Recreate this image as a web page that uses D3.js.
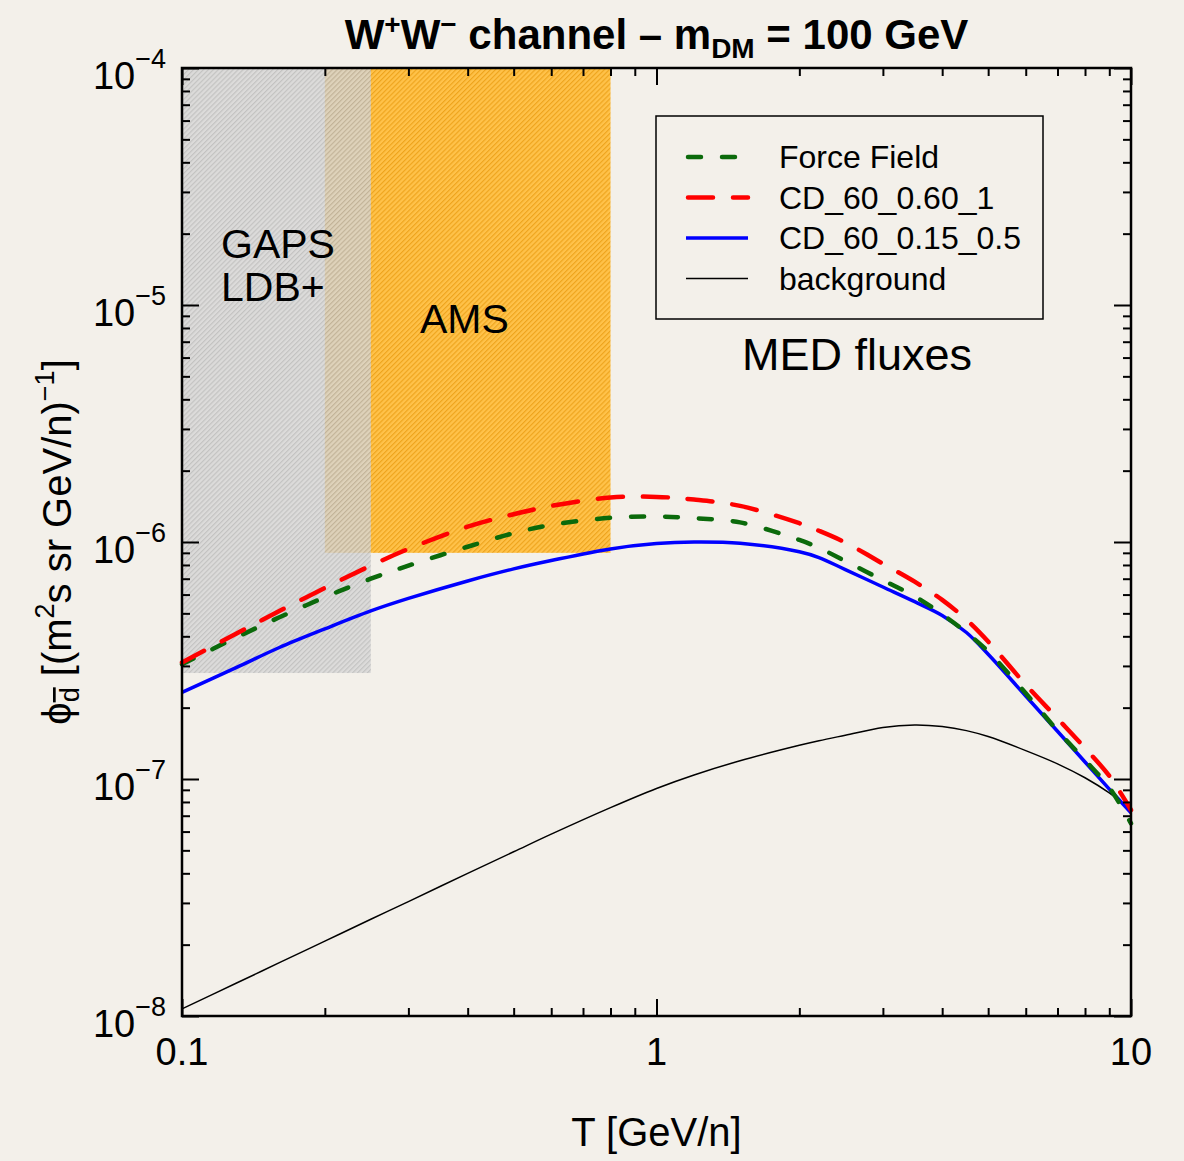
<!DOCTYPE html>
<html>
<head>
<meta charset="utf-8">
<script src="https://cdn.jsdelivr.net/npm/d3@7"></script>
<style>
  body { margin: 0; background: #f3f0ea; }
  svg { display: block; font-family: "Liberation Sans", Arial, Helvetica, sans-serif; }
</style>
</head>
<body>
<div id="chart"></div>
<script>
// kinetic energy per nucleon, GeV/n
const energy = [0.1, 0.13, 0.16, 0.2, 0.25, 0.3, 0.4, 0.5, 0.6, 0.8, 1.0, 1.2, 1.5, 2.0, 2.2, 2.5, 3.0, 3.5, 4.0, 4.5, 5.0, 6.0, 7.0, 8.0, 9.0, 10.0];

// antideuteron fluxes [(m^2 s sr GeV/n)^-1]
const forceField = [3.05e-7, 3.95e-7, 4.8e-7, 5.85e-7, 7.0e-7, 7.95e-7, 9.55e-7, 1.09e-6, 1.18e-6, 1.265e-6, 1.28e-6, 1.26e-6, 1.21e-6, 1.02e-6, 9.45e-7, 8.3e-7, 6.9e-7, 5.9e-7, 4.95e-7, 4.15e-7, 3.45e-7, 2.3e-7, 1.6e-7, 1.2e-7, 9.2e-8, 6.5e-8];
const cd60_060_1 = [3.1e-7, 4.1e-7, 5.1e-7, 6.4e-7, 7.95e-7, 9.35e-7, 1.16e-6, 1.31e-6, 1.42e-6, 1.54e-6, 1.55e-6, 1.51e-6, 1.42e-6, 1.2e-6, 1.115e-6, 9.95e-7, 8.1e-7, 6.8e-7, 5.7e-7, 4.7e-7, 3.8e-7, 2.5e-7, 1.8e-7, 1.35e-7, 1.03e-7, 7.4e-8];
const cd60_015_05 = [2.32e-7, 2.95e-7, 3.58e-7, 4.3e-7, 5.12e-7, 5.78e-7, 6.85e-7, 7.7e-7, 8.35e-7, 9.35e-7, 9.85e-7, 1.0e-6, 9.88e-7, 9.1e-7, 8.6e-7, 7.65e-7, 6.46e-7, 5.6e-7, 4.9e-7, 4.15e-7, 3.36e-7, 2.24e-7, 1.59e-7, 1.18e-7, 9.07e-8, 7.2e-8];
const background = [1.072e-8, 1.374e-8, 1.675e-8, 2.07e-8, 2.56e-8, 3.04e-8, 4.0e-8, 4.93e-8, 5.85e-8, 7.57e-8, 9.12e-8, 1.04e-7, 1.194e-7, 1.387e-7, 1.45e-7, 1.53e-7, 1.65e-7, 1.69e-7, 1.665e-7, 1.6e-7, 1.51e-7, 1.318e-7, 1.159e-7, 1.012e-7, 8.73e-8, 7.38e-8];

const seriesNames = ["Force Field", "CD_60_0.60_1", "CD_60_0.15_0.5", "background"];

// experimental sensitivity regions
const regionNames = ["AMS", "GAPS LDB+"];
const regionTmin = [0.2, 0.1];
const regionTmax = [0.8, 0.25];
const regionFluxMin = [9e-7, 2.8e-7];
const regionFluxMax = [1e-4, 1e-4];

const xMajor = [0.1, 1, 10];
const xMajorLabels = ["0.1", "1", "10"];
const yMajor = [1e-8, 1e-7, 1e-6, 1e-5, 1e-4];
const yExponents = ["−8", "−7", "−6", "−5", "−4"];

const W = 1184, H = 1161;
const plotLeft = 182, plotRight = 1131, plotTop = 68, plotBottom = 1016;

const x = d3.scaleLog().domain([0.1, 10]).range([plotLeft, plotRight]);
const y = d3.scaleLog().domain([1e-8, 1e-4]).range([plotBottom, plotTop]);

const svg = d3.select("#chart").append("svg")
    .attr("width", W)
    .attr("height", H);

svg.append("rect").attr("width", W).attr("height", H).attr("fill", "#f3f0ea");

// hatch patterns
const defs = svg.append("defs");
function hatch(id, base, stroke) {
    const p = defs.append("pattern")
        .attr("id", id)
        .attr("patternUnits", "userSpaceOnUse")
        .attr("width", 3.5).attr("height", 3.5)
        .attr("patternTransform", "rotate(45)");
    p.append("rect").attr("width", 3.5).attr("height", 3.5).attr("fill", base);
    p.append("line").attr("x1", 0.6).attr("y1", 0).attr("x2", 0.6).attr("y2", 3.5)
        .attr("stroke", stroke).attr("stroke-width", 1.1);
}
hatch("hatchOrange", "#ffc24a", "#eea21a");
hatch("hatchGray", "#d6d6d6", "#b5b5b5");

const regionFills = ["url(#hatchOrange)", "url(#hatchGray)"];
const regionOpacity = [1, 0.8];

svg.append("g").selectAll("rect")
    .data(regionNames)
    .join("rect")
    .attr("x", (d, i) => x(regionTmin[i]))
    .attr("y", (d, i) => y(regionFluxMax[i]))
    .attr("width", (d, i) => x(regionTmax[i]) - x(regionTmin[i]))
    .attr("height", (d, i) => y(regionFluxMin[i]) - y(regionFluxMax[i]))
    .attr("fill", (d, i) => regionFills[i])
    .attr("opacity", (d, i) => regionOpacity[i]);

// curves
const fluxes = [forceField, cd60_060_1, cd60_015_05, background];
const colors = ["#0b6a0b", "#ff0000", "#0000ff", "#000000"];
const widths = [4.5, 4.5, 3.5, 1.5];
const dashes = ["13,21", "25,20", null, null];

const line = d3.line()
    .x(d => x(d[0]))
    .y(d => y(d[1]))
    .curve(d3.curveCatmullRom.alpha(0.5));

const order = [3, 2, 0, 1];
order.forEach(i => {
    svg.append("path")
        .datum(energy.map((e, k) => [e, fluxes[i][k]]))
        .attr("d", line)
        .attr("fill", "none")
        .attr("stroke", colors[i])
        .attr("stroke-width", widths[i])
        .attr("stroke-linecap", dashes[i] ? "round" : "butt")
        .attr("stroke-dasharray", dashes[i]);
});

// axes: ticks pointing inward on all four sides
const xMinor = [];
[0.1, 1].forEach(d => { for (let k = 2; k <= 9; k++) xMinor.push(d * k); });
const yMinor = [];
[1e-8, 1e-7, 1e-6, 1e-5].forEach(d => { for (let k = 2; k <= 9; k++) yMinor.push(d * k); });

function drawAxis(axisFn, scale, values, size, transform) {
    const g = svg.append("g")
        .attr("transform", transform)
        .call(axisFn(scale).tickValues(values).tickSizeInner(size).tickSizeOuter(0).tickFormat(""));
    g.select(".domain").remove();
    g.selectAll(".tick line").attr("stroke", "#000").attr("stroke-width", 2);
}
drawAxis(d3.axisBottom, x, xMajor, -17, `translate(0,${plotBottom})`);
drawAxis(d3.axisBottom, x, xMinor, -8, `translate(0,${plotBottom})`);
drawAxis(d3.axisTop, x, xMajor, -17, `translate(0,${plotTop})`);
drawAxis(d3.axisTop, x, xMinor, -8, `translate(0,${plotTop})`);
drawAxis(d3.axisLeft, y, yMajor, -17, `translate(${plotLeft},0)`);
drawAxis(d3.axisLeft, y, yMinor, -8, `translate(${plotLeft},0)`);
drawAxis(d3.axisRight, y, yMajor, -17, `translate(${plotRight},0)`);
drawAxis(d3.axisRight, y, yMinor, -8, `translate(${plotRight},0)`);

svg.append("rect")
    .attr("x", plotLeft).attr("y", plotTop)
    .attr("width", plotRight - plotLeft).attr("height", plotBottom - plotTop)
    .attr("fill", "none").attr("stroke", "#000").attr("stroke-width", 2.5);

// tick labels
svg.append("g").selectAll("text")
    .data(xMajor)
    .join("text")
    .attr("x", d => x(d))
    .attr("y", 1065)
    .attr("text-anchor", "middle")
    .attr("font-size", 38)
    .text((d, i) => xMajorLabels[i]);

const yl = svg.append("g").selectAll("text")
    .data(yMajor)
    .join("text")
    .attr("x", 166)
    .attr("y", d => y(d) + 21)
    .attr("text-anchor", "end")
    .attr("font-size", 38);
yl.append("tspan").text("10");
yl.append("tspan").attr("dy", -21).attr("font-size", 27).text((d, i) => yExponents[i]);

// axis titles
svg.append("text")
    .attr("x", (plotLeft + plotRight) / 2)
    .attr("y", 1146)
    .attr("text-anchor", "middle")
    .attr("font-size", 40)
    .text("T [GeV/n]");

const ylab = svg.append("text")
    .attr("transform", `translate(71,${(plotTop + plotBottom) / 2}) rotate(-90)`)
    .attr("text-anchor", "middle")
    .attr("font-size", 40);
ylab.append("tspan").text("ϕ");
ylab.append("tspan").attr("font-size", 27).attr("dy", 8).attr("text-decoration", "overline").text("d");
ylab.append("tspan").attr("dy", -8).text(" [(m");
ylab.append("tspan").attr("font-size", 27).attr("dy", -17).text("2");
ylab.append("tspan").attr("dy", 17).text("s sr GeV/n)");
ylab.append("tspan").attr("font-size", 27).attr("dy", -17).text("−1");
ylab.append("tspan").attr("dy", 17).text("]");

// title
const title = svg.append("text")
    .attr("x", (plotLeft + plotRight) / 2)
    .attr("y", 49)
    .attr("text-anchor", "middle")
    .attr("font-size", 42)
    .attr("font-weight", "bold");
title.append("tspan").text("W");
title.append("tspan").attr("font-size", 28).attr("dy", -15).text("+");
title.append("tspan").attr("dy", 15).text("W");
title.append("tspan").attr("font-size", 28).attr("dy", -15).text("−");
title.append("tspan").attr("dy", 15).text(" channel – m");
title.append("tspan").attr("font-size", 28).attr("dy", 9).text("DM");
title.append("tspan").attr("dy", -9).text(" = 100 GeV");

// region annotations
svg.append("text").attr("x", 221).attr("y", 258).attr("font-size", 41).text("GAPS");
svg.append("text").attr("x", 221).attr("y", 301).attr("font-size", 41).text("LDB+");
svg.append("text").attr("x", 420).attr("y", 333).attr("font-size", 41).text("AMS");
svg.append("text").attr("x", 742).attr("y", 370).attr("font-size", 45).text("MED fluxes");

// legend
const legend = svg.append("g");
legend.append("rect")
    .attr("x", 656).attr("y", 116)
    .attr("width", 387).attr("height", 203)
    .attr("fill", "none").attr("stroke", "#000").attr("stroke-width", 1.5);

const rows = legend.selectAll("g.row")
    .data(seriesNames)
    .join("g")
    .attr("class", "row")
    .attr("transform", (d, i) => `translate(0,${157 + i * 40.5})`);
rows.append("line")
    .attr("x1", (d, i) => dashes[i] ? 688 : 686).attr("x2", 748)
    .attr("stroke", (d, i) => colors[i])
    .attr("stroke-width", (d, i) => widths[i])
    .attr("stroke-linecap", (d, i) => dashes[i] ? "round" : "butt")
    .attr("stroke-dasharray", (d, i) => dashes[i]);
rows.append("text")
    .attr("x", 779).attr("y", 11)
    .attr("font-size", 32)
    .text(d => d);
</script>
</body>
</html>
